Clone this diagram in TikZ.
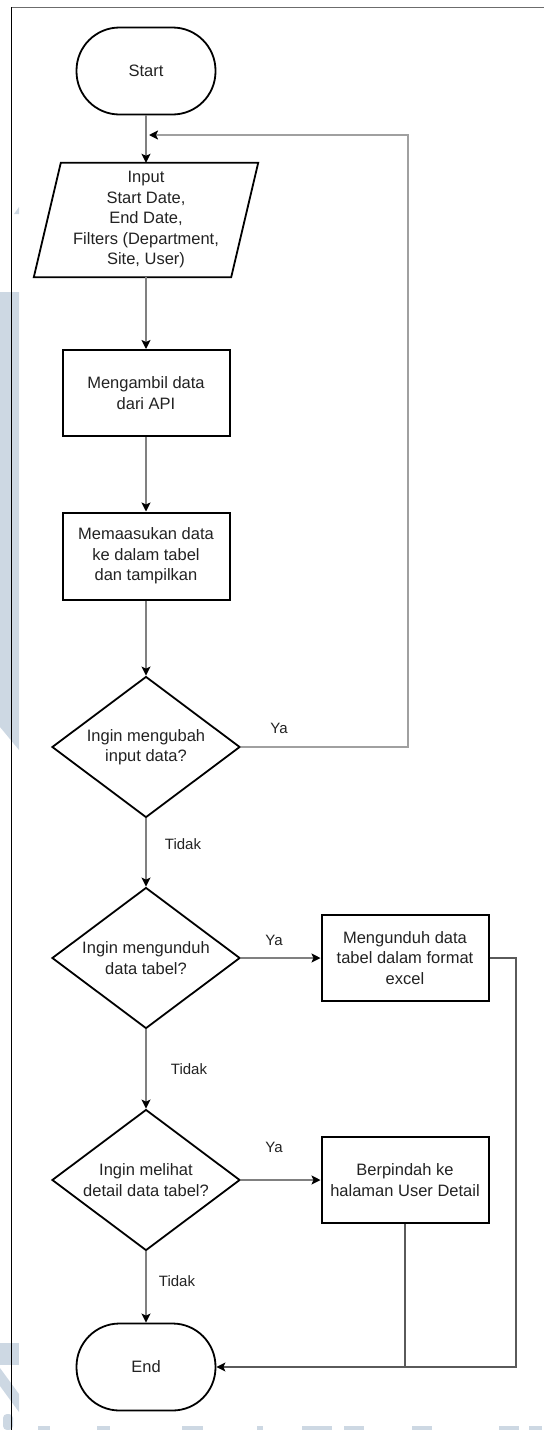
\documentclass[tikz,border=0pt]{standalone}
\usepackage{fontspec}
\setmainfont{Liberation Sans}
\usetikzlibrary{shapes.geometric,arrows.meta}
\definecolor{wm}{RGB}{205,216,227}
\definecolor{txt}{RGB}{34,34,34}
\definecolor{conn}{RGB}{128,128,128}
\definecolor{loopc}{RGB}{160,160,160}
\definecolor{retc}{RGB}{90,90,90}
\tikzset{
  base/.style={font=\fontsize{16.5}{20.5}\selectfont, text=txt, align=center},
  term/.style={base, draw=black, line width=1.8pt, rectangle, rounded corners=43pt,
    minimum width=139pt, minimum height=87pt},
  proc/.style={base, draw=black, line width=2pt, rectangle,
    minimum width=167pt, minimum height=86pt, inner sep=2pt},
  dec/.style={base, draw=black, line width=1.8pt, diamond, aspect=1.333, inner sep=0pt,
    minimum width=188pt, minimum height=141pt},
  io/.style={base, rectangle, minimum width=224pt, minimum height=114pt, inner sep=0pt},
  lbl/.style={font=\fontsize{15}{18}\selectfont, text=txt},
  flow/.style={draw=conn, line width=1.6pt, -{Stealth[length=9pt,width=9pt,inset=2pt,color=black]}},
  loopline/.style={draw=loopc, line width=1.8pt, -{Stealth[length=9pt,width=9pt,inset=2pt,color=black]}},
  retline/.style={draw=retc, line width=1.3pt},
}
\begin{document}
\begin{tikzpicture}[x=1pt,y=-1pt]
\useasboundingbox (0,0) rectangle (544,1430);
% watermark
\fill[wm] (0,292) -- (19,292) -- (19,750) -- (0,727) -- cycle;
\fill[wm] (14,214) -- (19,207) -- (19,214) -- cycle;
\fill[wm] (0,1343) rectangle (19,1365);
\fill[wm] (0,1368) -- (0,1386) -- (19,1412) -- (19,1394) -- cycle;
\fill[wm, rounded corners=4pt] (3,1430) -- (3,1414) -- (13,1414) -- (13,1430) -- cycle;
\foreach \a/\b in {38/50,97/110,182/203,257/263,302/332,344/364,412/432,499/519,529/542}
  \fill[wm] (\a,1426) rectangle (\b,1430);
% frame
\draw[line width=1.6pt, gray!85!black] (11,7.5) -- (544,7.5);
\draw[line width=1pt, black] (11,7) -- (11,1430);
% nodes
\node[term] (start) at (146,71) {Start};
\node[io] (inp) at (146,220) {Input\\Start Date,\\End Date,\\Filters (Department,\\Site, User)};
\draw[line width=1.8pt, black] ([xshift=27pt]inp.north west) -- (inp.north east)
  -- ([xshift=-27pt]inp.south east) -- (inp.south west) -- cycle;
\node[proc] (p1) at (146,393) {Mengambil data\\dari API};
\node[proc, minimum height=87pt] (p2) at (146,556) {Memaasukan data\\ke dalam tabel\\dan tampilkan};
\node[dec] (d1) at (146,747) {Ingin mengubah\\input data?};
\node[dec] (d2) at (146,958) {Ingin mengunduh\\data tabel?};
\node[proc] (p3) at (405,958) {Mengunduh data\\tabel dalam format\\excel};
\node[dec] (d3) at (146,1180) {Ingin melihat\\detail data tabel?};
\node[proc] (p4) at (405,1180) {Berpindah ke\\halaman User Detail};
\node[term] (end) at (146,1367) {End};
% labels
\node[lbl] (ya1) at (279,728) {Ya};
\node[lbl] (td1) at (183,844) {Tidak};
\node[lbl] (ya2) at (274,940) {Ya};
\node[lbl] (td2) at (189,1069) {Tidak};
\node[lbl] (ya3) at (274,1147) {Ya};
\node[lbl] (td3) at (177,1281) {Tidak};
% coordinates
\coordinate (loopR) at (408,135);
\coordinate (loopJ) at (149,135);
\coordinate (retR) at (516,1367);
% connectors
\draw[flow] (start.south) -- (inp.north);
\draw[flow] (inp.south) -- (p1.north);
\draw[flow] (p1.south) -- (p2.north);
\draw[flow] (p2.south) -- (d1.north);
\draw[flow] (d1.south) -- (d2.north);
\draw[flow] (d2.south) -- (d3.north);
\draw[flow] (d3.south) -- (end.north);
\draw[flow] (d2.east) -- (p3.west);
\draw[flow] (d3.east) -- (p4.west);
\draw[loopline] (d1.east) -| (loopR) -- (loopJ);
\draw[retline] (p4.south) -- (p4.south |- retR);
\draw[retline, -{Stealth[length=9pt,width=9pt,inset=2pt,color=black]}] (p3.east) -| (retR) -- (end.east);
\end{tikzpicture}
\end{document}
